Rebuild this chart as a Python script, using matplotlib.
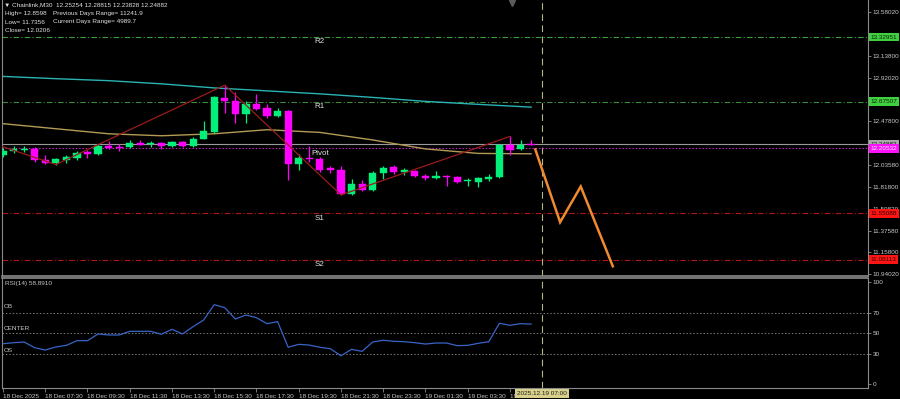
import matplotlib
matplotlib.use("Agg")
import matplotlib.pyplot as plt
import matplotlib.transforms as mtrans

# ---- data (Chainlink M30) ----
opens = [12.137, 12.175, 12.188, 12.198, 12.091, 12.057, 12.091, 12.107, 12.165, 12.151,
         12.225, 12.215, 12.215, 12.263, 12.245, 12.256, 12.228, 12.269, 12.228, 12.303,
         12.370, 12.717, 12.683, 12.556, 12.653, 12.612, 12.531, 12.579, 12.050, 12.107,
         12.101, 12.003, 11.990, 11.745, 11.849, 11.781, 11.956, 12.016, 11.970, 11.976,
         11.932, 11.902, 11.932, 11.922, 11.872, 11.862, 11.892, 11.915, 12.242, 12.195,
         12.25254]
highs = [12.205, 12.225, 12.225, 12.215, 12.134, 12.107, 12.144, 12.175, 12.185, 12.245,
         12.276, 12.245, 12.286, 12.286, 12.276, 12.266, 12.281, 12.281, 12.319, 12.478,
         12.730, 12.844, 12.774, 12.680, 12.751, 12.650, 12.609, 12.589, 12.151, 12.228,
         12.117, 12.030, 12.023, 11.899, 11.882, 11.973, 12.023, 12.043, 12.006, 11.983,
         11.949, 11.976, 11.935, 11.927, 11.909, 11.922, 11.949, 12.250, 12.326, 12.293,
         12.28815]
lows = [12.114, 12.155, 12.165, 12.064, 12.050, 12.043, 12.054, 12.084, 12.104, 12.144,
        12.198, 12.175, 12.208, 12.235, 12.215, 12.195, 12.220, 12.220, 12.220, 12.296,
        12.362, 12.562, 12.461, 12.461, 12.589, 12.508, 12.518, 11.889, 11.990, 12.067,
        11.966, 11.960, 11.736, 11.740, 11.771, 11.774, 11.899, 11.949, 11.942, 11.915,
        11.889, 11.895, 11.831, 11.857, 11.824, 11.814, 11.875, 11.907, 12.134, 12.190,
        12.23828]
closes = [12.178, 12.195, 12.198, 12.084, 12.061, 12.097, 12.114, 12.162, 12.151, 12.225,
          12.208, 12.205, 12.256, 12.242, 12.259, 12.225, 12.269, 12.228, 12.303, 12.377,
          12.720, 12.680, 12.556, 12.650, 12.606, 12.531, 12.579, 12.048, 12.111, 12.094,
          11.990, 11.990, 11.745, 11.849, 11.781, 11.960, 12.010, 11.966, 11.983, 11.925,
          11.902, 11.932, 11.919, 11.862, 11.882, 11.905, 11.922, 12.242, 12.192, 12.242,
          12.24882]

rsi = [39.6, 40.6, 41.3, 35.7, 33.4, 36.4, 38.0, 42.6, 42.6, 49.2,
       48.2, 48.2, 51.8, 51.8, 51.8, 48.9, 53.8, 49.2, 56.4, 62.9,
       78.0, 75.0, 63.9, 67.8, 65.2, 59.3, 61.3, 36.1, 39.0, 38.3,
       36.1, 34.7, 27.8, 34.1, 32.1, 41.3, 43.0, 42.0, 41.6, 40.6,
       39.3, 40.3, 40.3, 37.7, 38.0, 40.0, 41.6, 59.7, 57.7, 59.3,
       58.9]

ma_idx = [0, 5, 10, 15, 20, 25, 30, 35, 40, 45, 50]
ma_slow = [12.932, 12.909, 12.889, 12.857, 12.816, 12.786, 12.756, 12.720, 12.680, 12.650, 12.622]
ma_fast = [12.455, 12.404, 12.353, 12.333, 12.353, 12.394, 12.367, 12.291, 12.200, 12.155, 12.151]

zz_idx = [-0.1, 5, 21, 32, 48]
zz_px = [12.225, 12.043, 12.844, 11.736, 12.326]

fc_idx = [50.4, 52.75, 54.7, 57.74]
fc_px = [12.195, 11.461, 11.821, 11.016]

lvl_names = ["R2", "R1", "Pivot", "S1", "S2"]
lvl_vals = [13.32951, 12.67507, 12.20532, 11.55088, 11.08113]
last_close = 12.24882

price_ticks = [10.94020, 11.15800, 11.37580, 11.59820, 11.81800, 12.03580,
               12.47800, 12.92020, 13.13800, 13.58020]
rsi_ticks = [0, 30, 50, 70, 100]

time_idx = [0, 4, 8, 12, 16, 20, 24, 28, 32, 36, 40, 44, 48]
time_lbl = ["18 Dec 2025", "18 Dec 07:30", "18 Dec 09:30", "18 Dec 11:30", "18 Dec 13:30",
            "18 Dec 15:30", "18 Dec 17:30", "18 Dec 19:30", "18 Dec 21:30", "18 Dec 23:30",
            "19 Dec 01:30", "19 Dec 03:30", "19 Dec 05:30"]
cursor_idx = 51

plt.rcParams["font.family"] = ["Liberation Sans", "DejaVu Sans"]
FS = 4.6
BULL = "#00f07a"
BEAR = "#ff00ff"
GRID = "#8a8a8a"
TXT = "#c8c8c8"

fig = plt.figure(figsize=(9, 3.99), dpi=100, facecolor="black")
ax = fig.add_axes([2 / 900, 123 / 399, 866 / 900, 276 / 399], facecolor="black")
axr = fig.add_axes([2 / 900, 11 / 399, 866 / 900, 110 / 399], facecolor="black")

for a in (ax, axr):
    a.set_xlim(-0.095, 81.9)
    for s in a.spines.values():
        s.set_color(GRID)
        s.set_linewidth(0.8)
    a.yaxis.tick_right()
    a.tick_params(axis="y", colors=GRID, labelcolor=TXT, labelsize=FS, length=2, pad=1.5, width=0.6)
    a.axvline(cursor_idx, color="#b8b48c", lw=0.8, ls=(0, (6, 4)), zorder=1)
ax.spines["top"].set_visible(False)
ax.spines["bottom"].set_linewidth(1.2)
axr.spines["top"].set_linewidth(1.2)

# main price panel
ax.set_ylim(10.918, 13.703)
ax.set_yticks(price_ticks)
ax.set_yticklabels([f"{t:.5f}" for t in price_ticks])
ax.set_xticks([])

ax.plot(ma_idx, ma_slow, color="#2bb3b3", lw=1.0, zorder=2)
ax.plot(ma_idx, ma_fast, color="#b39a55", lw=1.0, zorder=2)

lvl_colors = ["#3d9e3d", "#3d8a3d", "#d020d0", "#b01414", "#b01414"]
for name, v, c in zip(lvl_names, lvl_vals, lvl_colors):
    style = (0, (1.2, 1.8)) if name == "Pivot" else (0, (5, 2, 1, 2))
    ax.axhline(v, color=c, lw=0.8, ls=style, zorder=1.5)
    ax.text(30, v - 0.05, name, color="#e0e0e0", fontsize=FS + 1.2, ha="center", va="center", zorder=6)
ax.axhline(last_close, color="#9a9a9a", lw=0.8, zorder=1.4)

for i, (o, h, l, c) in enumerate(zip(opens, highs, lows, closes)):
    col = BULL if c >= o else BEAR
    ax.vlines(i, l, h, color=col, lw=0.9, zorder=3)
    body = c - o
    if abs(body) < 0.008:
        body = 0.008 if body >= 0 else -0.008
    ax.bar(i, body, bottom=o, width=0.68, color=col, edgecolor=col, lw=0.3, zorder=4)

ax.plot(zz_idx, zz_px, color="#9a1c1c", lw=0.9, zorder=5)
ax.plot(fc_idx, fc_px, color="#f08a30", lw=1.8, zorder=6, solid_joinstyle="miter")

# right-side price boxes
tb = mtrans.blended_transform_factory(ax.transAxes, ax.transData)
box_cols = {"R2": ("#3fd03f", "#102010"), "R1": ("#3fd03f", "#102010"),
            "Pivot": ("#ff10ff", "#f0f0f0"), "S1": ("#ff1414", "#300000"), "S2": ("#ff1414", "#300000")}
ax.text(1.0 + 2.5 / 866, last_close, f"{last_close:.5f}", transform=tb, fontsize=FS,
        ha="left", va="center", color="#202020", clip_on=False, zorder=10,
        bbox=dict(boxstyle="square,pad=0.3", fc="#a8a8a8", ec="none"))
for name, v in zip(lvl_names, lvl_vals):
    fc, tc = box_cols[name]
    ax.text(1.0 + 2.5 / 866, v, f"{v:.5f}", transform=tb, fontsize=FS, ha="left", va="center",
            color=tc, clip_on=False, zorder=11,
            bbox=dict(boxstyle="square,pad=0.3", fc=fc, ec="none"))

# chart shift marker at the top
ax.plot(48.2, 1 - 3 / 276, marker="v", ms=4.5, color="#5a5a5a",
        transform=mtrans.blended_transform_factory(ax.transData, ax.transAxes), clip_on=False)

# RSI panel
axr.set_ylim(-3.9, 104.2)
axr.set_yticks(rsi_ticks)
axr.set_yticklabels([str(t) for t in rsi_ticks])
for lv in (30, 50, 70):
    axr.axhline(lv, color="#7a7a7a", lw=0.7, ls=(0, (1.5, 2)), zorder=1)
axr.plot(range(len(rsi)), rsi, color="#3a64c8", lw=0.9, zorder=3)
axr.set_xticks(time_idx)
axr.set_xticklabels(time_lbl)
axr.tick_params(axis="x", colors=GRID, labelcolor=TXT, labelsize=FS, length=3, pad=1, width=0.6)
for lab in axr.get_xticklabels():
    lab.set_ha("left")

tx = mtrans.blended_transform_factory(axr.transData, axr.transAxes)
axr.text(cursor_idx, -0.03, "2025.12.19 07:00", transform=tx, fontsize=FS, ha="center", va="top",
         color="#202020", clip_on=False, zorder=12,
         bbox=dict(boxstyle="square,pad=0.3", fc="#d8d08a", ec="none"))

# header and panel captions
fig.text(4 / 900, 1 - 5 / 399, "\u25bc Chainlink,M30  12.25254 12.28815 12.23828 12.24882",
         color="#e0e0e0", fontsize=FS, va="center", ha="left")
fig.text(5 / 900, 1 - 14 / 399, "High= 12.8598", color="#e0e0e0", fontsize=FS, va="center")
fig.text(53 / 900, 1 - 14 / 399, "Previous Days Range= 11241.9", color="#e0e0e0", fontsize=FS, va="center")
fig.text(5 / 900, 1 - 22 / 399, "Low= 11.7356", color="#e0e0e0", fontsize=FS, va="center")
fig.text(53 / 900, 1 - 22 / 399, "Current Days Range= 4989.7", color="#e0e0e0", fontsize=FS, va="center")
fig.text(5 / 900, 1 - 30 / 399, "Close= 12.0206", color="#e0e0e0", fontsize=FS, va="center")

fig.text(5 / 900, 1 - 284 / 399, "RSI(14) 58.8910", color=TXT, fontsize=FS, va="center")
fig.text(4 / 900, 1 - 307 / 399, "OB", color=TXT, fontsize=FS, va="center")
fig.text(4 / 900, 1 - 329 / 399, "CENTER", color=TXT, fontsize=FS, va="center")
fig.text(4 / 900, 1 - 351 / 399, "OS", color=TXT, fontsize=FS, va="center")

fig.savefig("out.png", dpi=100, facecolor="black")
